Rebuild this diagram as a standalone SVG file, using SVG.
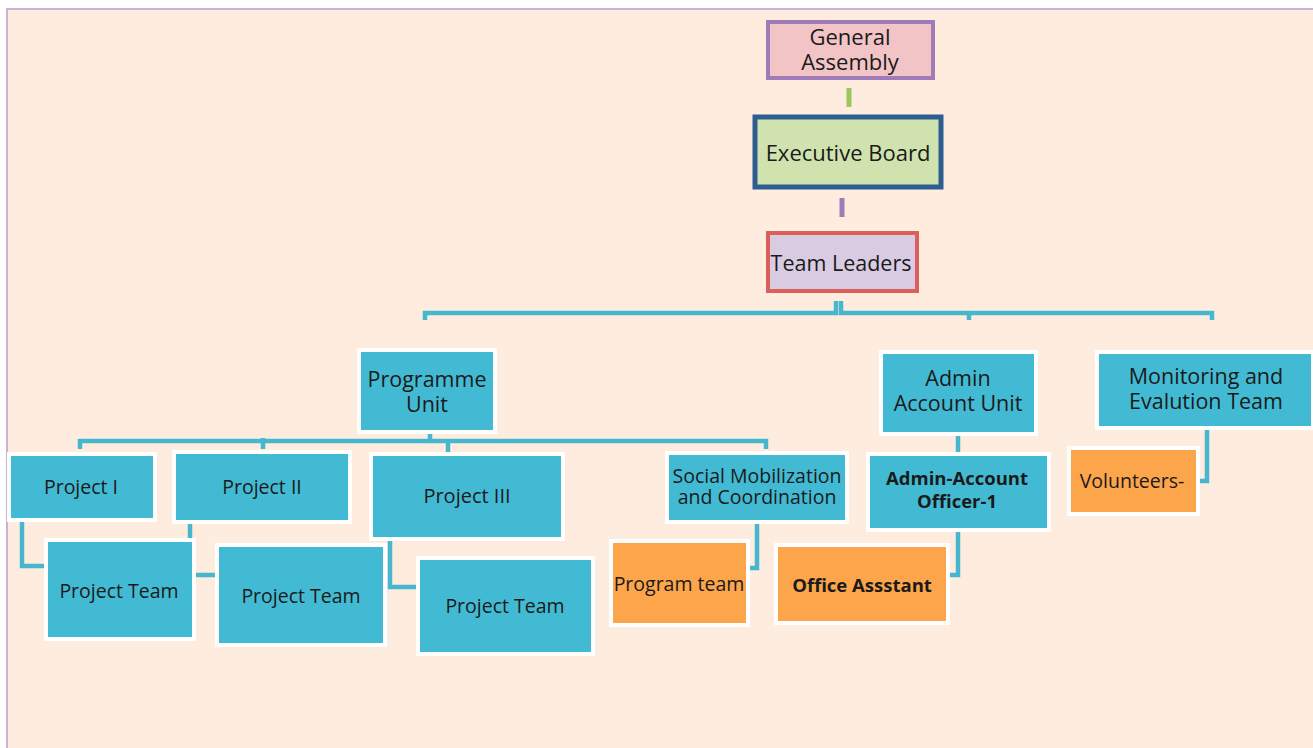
<svg xmlns="http://www.w3.org/2000/svg" width="1313" height="748" viewBox="0 0 1313 748">
  <style>
    .bg { fill: #FEECDF; stroke: #C9B3D9; stroke-width: 2; }
    .unit { fill: #43BAD3; stroke: #FFFFFF; stroke-width: 4; }
    .staff { fill: #FCA54B; stroke: #FFFFFF; stroke-width: 4; }
    .wire { fill: none; stroke: #46B7CF; stroke-width: 4.5; stroke-linejoin: miter; }
    text { font-family: "Open Sans", "Noto Sans", sans-serif; fill: #1A1A1A; text-anchor: middle; }
    .b { font-weight: bold; }
  </style>

  <!-- page -->
  <rect x="0" y="0" width="1313" height="748" fill="#FFFFFF"/>
  <rect class="bg" x="7" y="9" width="1320" height="750"/>

  <!-- connectors -->
  <g id="connectors">
    <line x1="849" y1="88" x2="849" y2="107" stroke="#9CC75B" stroke-width="5"/>
    <line x1="842" y1="198" x2="842" y2="217" stroke="#9D7CB8" stroke-width="5"/>
    <!-- Team Leaders to units -->
    <path class="wire" d="M425,320 V313 H836 V301"/>
    <path class="wire" d="M841,301 V313 H1212 V320"/>
    <line class="wire" x1="969" y1="313" x2="969" y2="320"/>
    <!-- Programme Unit to projects -->
    <path class="wire" d="M80,449 V441 H766 V449"/>
    <line class="wire" x1="263" y1="438" x2="263" y2="449"/>
    <line class="wire" x1="448" y1="441" x2="448" y2="452"/>
    <line class="wire" x1="430" y1="434" x2="430" y2="441"/>
    <!-- projects to project teams -->
    <path class="wire" d="M22,522 V566 H44"/>
    <line class="wire" x1="190" y1="523" x2="190" y2="539"/>
    <line class="wire" x1="196" y1="575" x2="216" y2="575"/>
    <path class="wire" d="M390,541 V587 H417"/>
    <!-- Social Mobilization to Program team -->
    <path class="wire" d="M757,524 V568 H749"/>
    <!-- Admin account chain -->
    <line class="wire" x1="958" y1="433" x2="958" y2="452"/>
    <path class="wire" d="M958,530 V575 H948"/>
    <!-- Monitoring to Volunteers -->
    <path class="wire" d="M1207,428 V481 H1198"/>
  </g>

  <g id="general-assembly">
    <rect x="768" y="22" width="165" height="56" fill="#F2C4C5" stroke="#9F7CB7" stroke-width="4"/>
    <text x="850" y="45" font-size="22">General</text>
    <text x="850" y="70" font-size="22">Assembly</text>
  </g>

  <g id="executive-board">
    <rect x="755" y="117" width="186" height="70" fill="#D0E2AE" stroke="#2D5E90" stroke-width="5"/>
    <text x="848" y="161" font-size="22">Executive Board</text>
  </g>

  <g id="team-leaders">
    <rect x="768" y="233" width="149" height="58" fill="#D8CBE2" stroke="#D9605B" stroke-width="4"/>
    <text x="841" y="271" font-size="21.5">Team Leaders</text>
  </g>

  <g id="programme-unit">
    <rect class="unit" x="359" y="350" width="136" height="82"/>
    <text x="427" y="387" font-size="21.5">Programme</text>
    <text x="427" y="412" font-size="21.5">Unit</text>
  </g>

  <g id="admin-account-unit">
    <rect class="unit" x="881" y="352" width="155" height="82"/>
    <text x="958" y="386" font-size="21.5">Admin</text>
    <text x="958" y="411" font-size="21.5">Account Unit</text>
  </g>

  <g id="monitoring-team">
    <rect class="unit" x="1097" y="352" width="216" height="76"/>
    <text x="1206" y="384" font-size="21.5">Monitoring and</text>
    <text x="1206" y="409" font-size="21.5">Evalution Team</text>
  </g>

  <g id="project-1">
    <rect class="unit" x="9" y="454" width="146" height="66"/>
    <text x="81" y="494" font-size="19.5">Project I</text>
  </g>

  <g id="project-2">
    <rect class="unit" x="174" y="452" width="176" height="70"/>
    <text x="262" y="494" font-size="19.5">Project II</text>
  </g>

  <g id="project-3">
    <rect class="unit" x="371" y="454" width="192" height="85"/>
    <text x="467" y="503" font-size="20">Project III</text>
  </g>

  <g id="social-mobilization">
    <rect class="unit" x="667" y="453" width="180" height="69"/>
    <text x="757" y="483" font-size="19.5">Social Mobilization</text>
    <text x="757" y="504" font-size="19.5">and Coordination</text>
  </g>

  <g id="admin-account-officer">
    <rect class="unit" x="868" y="454" width="181" height="76"/>
    <text class="b" x="957" y="485" font-size="18.5">Admin-Account</text>
    <text class="b" x="957" y="508" font-size="18.5">Officer-1</text>
  </g>

  <g id="volunteers">
    <rect class="staff" x="1069" y="448" width="129" height="66"/>
    <text x="1132" y="488" font-size="19.5">Volunteers-</text>
  </g>

  <g id="project-team-1">
    <rect class="unit" x="46" y="540" width="148" height="99"/>
    <text x="119" y="598" font-size="19.5">Project Team</text>
  </g>

  <g id="project-team-2">
    <rect class="unit" x="217" y="545" width="168" height="100"/>
    <text x="301" y="603" font-size="19.5">Project Team</text>
  </g>

  <g id="project-team-3">
    <rect class="unit" x="418" y="558" width="175" height="96"/>
    <text x="505" y="613" font-size="19.5">Project Team</text>
  </g>

  <g id="program-team">
    <rect class="staff" x="611" y="541" width="137" height="84"/>
    <text x="679" y="591" font-size="19.5">Program team</text>
  </g>

  <g id="office-assistant">
    <rect class="staff" x="776" y="545" width="172" height="78"/>
    <text class="b" x="862" y="592" font-size="18.5">Office Assstant</text>
  </g>
</svg>
